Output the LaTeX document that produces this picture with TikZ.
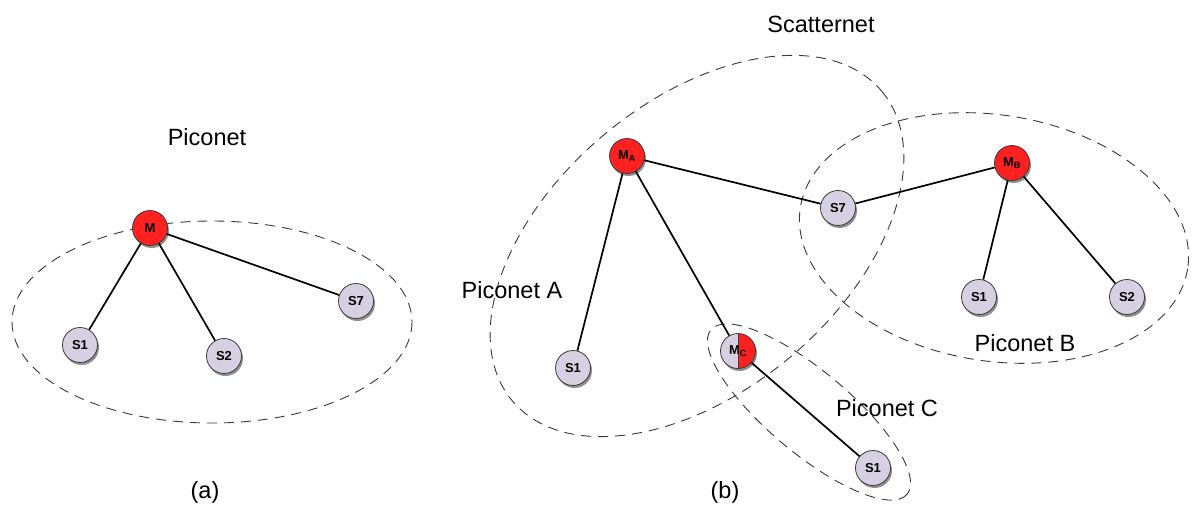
\documentclass[tikz,border=0pt]{standalone}
\usepackage{fontspec}
\setmainfont{Liberation Sans}
\usetikzlibrary{shadows}
\definecolor{devred}{HTML}{FF2020}
\definecolor{devlav}{HTML}{D7D0E2}
\definecolor{rimgray}{HTML}{3A3A3A}
\definecolor{netgray}{HTML}{383838}
\tikzset{
  dev/.style={circle, minimum size=35pt, inner sep=0pt, draw=rimgray, line width=0.8pt,
    font=\fontsize{13}{14}\selectfont\bfseries,
    drop shadow={shadow xshift=1.5pt, shadow yshift=-2.5pt, fill=black!55, opacity=0.8}},
  master/.style={dev, fill=devred},
  slave/.style={dev, fill=devlav},
  bridge/.style={dev, fill=devlav,
    path picture={\fill[devred] (path picture bounding box.north) rectangle (path picture bounding box.south east);
      \draw[rimgray, line width=0.8pt] (path picture bounding box.north) -- (path picture bounding box.south);}},
  link/.style={line width=1.7pt, black},
  net/.style={netgray, line width=0.9pt, dash pattern=on 10pt off 7pt},
  caption/.style={font=\fontsize{23.5}{28}\selectfont, inner sep=0pt}
}
\begin{document}
\begin{tikzpicture}[x=1pt, y=-1pt]
\useasboundingbox (0,0) rectangle (1192,506);

% ---- (a) single piconet ----
\draw[net] (212,322) ellipse [x radius=200, y radius=101];
\node[caption] (capA) at (207,137) {Piconet};
\node[caption] (labA) at (205,492) {(a)};

\node[master] (M)  at (150,228) {M};
\node[slave]  (aS1) at (80,345)  {S1};
\node[slave]  (aS2) at (224,356) {S2};
\node[slave]  (aS7) at (356,301) {S7};
\draw[link] (M) -- (aS1);
\draw[link] (M) -- (aS2);
\draw[link] (M) -- (aS7);

% ---- (b) scatternet ----
\draw[net, rotate around={40:(697,246)}] (697,246) ellipse [x radius=241, y radius=145];
\draw[net, rotate around={-9:(994,238)}] (994,238) ellipse [x radius=196, y radius=123];
\draw[net, rotate around={-40:(809,412)}] (809,412) ellipse [x radius=128, y radius=41];

\node[caption] (capS) at (821,24)  {Scatternet};
\node[caption] (capPA) at (512,290) {Piconet A};
\node[caption] (capPB) at (1025,343) {Piconet B};
\node[caption] (capPC) at (887,408) {Piconet C};
\node[caption] (labB) at (725,492) {(b)};

\node[master] (MA)  at (627,156) {M\textsubscript{A}};
\node[master] (MB)  at (1012,163) {M\textsubscript{B}};
\node[slave]  (bS7) at (838,208) {S7};
\node[slave]  (bS1) at (573,368) {S1};
\node[bridge] (MC)  at (738,351) {M\textsubscript{C}};
\node[slave]  (BS1) at (979,297) {S1};
\node[slave]  (BS2) at (1127,297) {S2};
\node[slave]  (CS1) at (873,468) {S1};

\draw[link] (MA) -- (bS7);
\draw[link] (MA) -- (bS1);
\draw[link] (MA) -- (MC);
\draw[link] (MB) -- (bS7);
\draw[link] (MB) -- (BS1);
\draw[link] (MB) -- (BS2);
\draw[link] (MC) -- (CS1);
\end{tikzpicture}
\end{document}
